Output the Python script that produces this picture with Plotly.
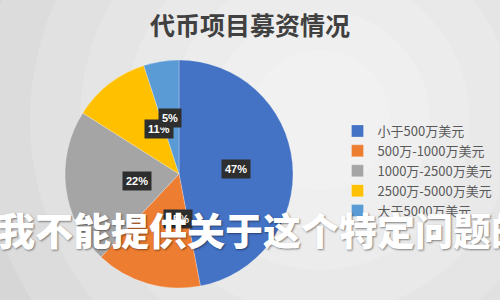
import math
import plotly.graph_objects as go

categories = ["小于500万美元", "500万-1000万美元", "1000万-2500万美元", "2500万-5000万美元", "大于5000万美元"]
values = [47, 15, 22, 11, 5]
colors = ["#4472C4", "#ED7D31", "#A5A5A5", "#FFC000", "#5B9BD5"]
title_text = "代币项目募资情况"
watermark_text = "我不能提供关于这个特定问题的"

W, H = 500, 300
cx_px, cy_px, r_px = 179, 174, 114  # pie centre / radius in pixels (from top-left)

dom_x = [(cx_px - r_px) / W, (cx_px + r_px) / W]
dom_y = [(H - cy_px - r_px) / H, (H - cy_px + r_px) / H]

fig = go.Figure()
fig.add_trace(go.Pie(
    labels=categories,
    values=values,
    marker=dict(colors=colors, line=dict(color="rgba(255,255,255,0.5)", width=0.5)),
    sort=False,
    direction="clockwise",
    rotation=0,
    textinfo="none",
    hoverinfo="label+percent",
    domain=dict(x=dom_x, y=dom_y),
))

# soft radial background glow
shapes = []
for rr in [340, 290, 240, 195, 150, 110, 70]:
    shapes.append(dict(type="circle", xref="paper", yref="paper",
                       x0=(320 - rr) / W, x1=(320 + rr) / W,
                       y0=(H - 120 - rr) / H, y1=(H - 120 + rr) / H,
                       fillcolor="white", opacity=0.16, line=dict(width=0), layer="below"))

annotations = []
total = sum(values)
cum = 0
for v in values:
    mid = (cum + v / 2) / total * 2 * math.pi
    cum += v
    px = cx_px + 0.5 * r_px * math.sin(mid)
    py = cy_px - 0.5 * r_px * math.cos(mid)
    annotations.append(dict(
        x=px / W, y=1 - py / H, xref="paper", yref="paper",
        text=f"{round(v / total * 100)}%", showarrow=False,
        font=dict(family="Liberation Sans, Arial", size=11, color="white", weight="bold"),
        bgcolor="#2e2e2e", borderpad=3,
    ))

annotations.append(dict(
    x=0.5, y=1 - 24 / H, xref="paper", yref="paper", text=title_text, showarrow=False,
    font=dict(family="Noto Sans CJK SC", size=25, color="#404040", weight="bold"),
    xanchor="center", yanchor="middle",
))

annotations.append(dict(
    x=263 / W, y=1 - 228 / H, xref="paper", yref="paper", text=watermark_text, showarrow=False,
    font=dict(family="Noto Sans CJK SC", size=38, color="white", weight=900,
              shadow="1px 1px 2px rgba(0,0,0,0.45)"),
    xanchor="center", yanchor="middle",
))

fig.update_layout(
    width=W, height=H,
    margin=dict(l=0, r=0, t=0, b=0),
    paper_bgcolor="#d6d6d6",
    plot_bgcolor="#d6d6d6",
    showlegend=True,
    legend=dict(x=0.995, y=1 - 116 / H, xanchor="right", yanchor="top",
                font=dict(family="Noto Sans CJK SC", size=13, color="#595959"),
                bgcolor="rgba(0,0,0,0)", itemclick=False),
    shapes=shapes,
    annotations=annotations,
)

fig.write_html("out.html")
